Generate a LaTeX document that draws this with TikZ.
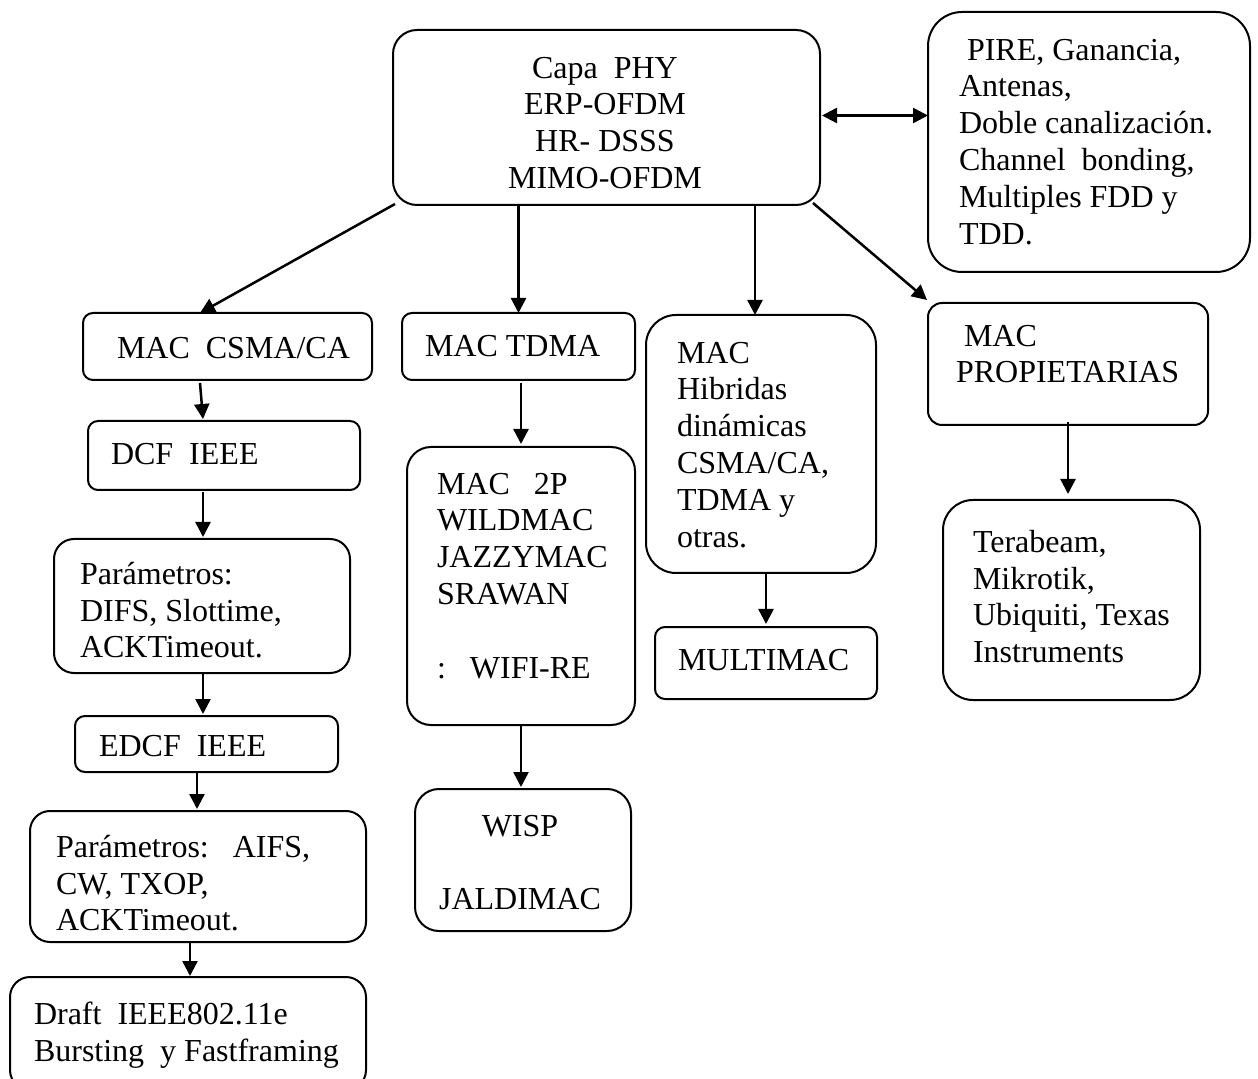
\documentclass[tikz,border=0pt]{standalone}
\usepackage{fontspec}
\setmainfont{Liberation Serif}
\usetikzlibrary{arrows.meta,calc,fit}
\begin{document}
\begin{tikzpicture}[x=0.5pt,y=-0.5pt,line width=1pt,
  box/.style={draw=black,inner sep=0pt,outer sep=0pt,rounded corners=#1},
  box/.default=5pt,
  txt/.style={inner sep=0pt,anchor=north west,align=left,font=\fontsize{16}{18.4}\selectfont},
  ctxt/.style={inner sep=0pt,anchor=north,align=center,font=\fontsize{16}{18.4}\selectfont},
  arr/.style={line width=1.25pt,-{Triangle[length=7.5pt,width=7.5pt]}},
  darr/.style={line width=1.25pt,{Triangle[length=7.5pt,width=7.5pt]}-{Triangle[length=7.5pt,width=7.5pt]}}]
\useasboundingbox (0,0) rectangle (1258,1079);
\fill[white] (0,0) rectangle (1258,1079);
% boxes
\node[box=12pt,fit={(393,30)(820,205)}] (phy) {};
\node[box=17pt,fit={(928,12)(1250,272)}] (rtop) {};
\node[box=5pt,fit={(83,313)(372,380)}] (csma) {};
\node[box=5pt,fit={(88,421)(360,490)}] (dcf) {};
\node[box=10pt,fit={(54,539)(350,673)}] (par1) {};
\node[box=5pt,fit={(75,716)(338,772)}] (edcf) {};
\node[box=10pt,fit={(30,811)(366,942)}] (par2) {};
\node[box=10pt,fit={(10,977)(366,1090)}] (draft) {};
\node[box=5pt,fit={(402,313)(635,380)}] (tdma) {};
\node[box=12pt,fit={(407,447)(635,725)}] (mac2p) {};
\node[box=12pt,fit={(415,789)(631,931)}] (wisp) {};
\node[box=15pt,fit={(646,315)(876,573)}] (hib) {};
\node[box=5pt,fit={(655,627)(877,699)}] (multi) {};
\node[box=7pt,fit={(928,303)(1208,425)}] (prop) {};
\node[box=15pt,fit={(943,500)(1200,700)}] (tera) {};
% texts
\node[ctxt] (tphy) at (605,56) {Capa\ \ PHY\\ERP-OFDM\\HR- DSSS\\MIMO-OFDM};
\node[txt] (trtop) at (958,38) {\hspace*{4pt}PIRE, Ganancia,\\Antenas,\\Doble canalización.\\Channel\ \ bonding,\\Multiples FDD y\\TDD.};
\node[txt] (tcsma) at (116,336) {MAC\ \ CSMA/CA};
\node[txt] (tdcf) at (110,442) {DCF\ \ IEEE};
\node[txt] (tpar1) at (79,561) {Parámetros:\\DIFS, Slottime,\\ACKTimeout.};
\node[txt] (tedcf) at (98,734) {EDCF\ \ IEEE};
\node[txt] (tpar2) at (55,834) {Parámetros:\ \ \ AIFS,\\CW, TXOP,\\ACKTimeout.};
\node[txt] (tdraft) at (33,1001) {Draft\ \ IEEE802.11e\\Bursting\ \ y Fastframing};
\node[txt] (ttdma) at (424,334) {MAC TDMA};
\node[txt] (tmac2p) at (436,472) {MAC\ \ \ 2P\\WILDMAC\\JAZZYMAC\\SRAWAN\\[18.4pt]:\ \ \ WIFI-RE};
\node[ctxt] (twisp) at (520,814) {WISP\\[18.4pt]JALDIMAC};
\node[txt] (thib) at (676,341) {MAC\\Hibridas\\dinámicas\\CSMA/CA,\\TDMA y\\otras.};
\node[txt] (tmulti) at (677,648) {MULTIMAC};
\node[txt] (tprop) at (955,324) {\hspace*{4pt}MAC\\PROPIETARIAS};
\node[txt] (ttera) at (972,529) {Terabeam,\\Mikrotik,\\Ubiquiti, Texas\\Instruments};
% connectors
\draw[darr] ($(phy.east)+(2,-2)$) -- ($(rtop.west |- phy.east)+(0,-2)$);
\draw[arr] ($(phy.south west)+(2,-1)$) -- ($(csma.north west)+(117,0)$);
\draw[arr] (tdma.north |- phy.south) -- (tdma.north);
\draw[arr] ($(hib.north |- phy.south)+(-6,0)$) -- ($(hib.north)+(-6,0)$);
\draw[arr] ($(phy.south east)+(-7,-2)$) -- ($(prop.north west)+(-1,-3)$);
\draw[arr] ($(csma.south west)+(117,3)$) -- ($(dcf.north west)+(115,-2)$);
\draw[arr] ($(dcf.south west)+(115,2)$) -- ($(par1.north west)+(149,-2)$);
\draw[arr] ($(par1.south west)+(149,0)$) -- ($(edcf.north west)+(128,-2)$);
\draw[arr] ($(edcf.south west)+(122,0)$) -- ($(par2.north west)+(167,-2)$);
\draw[arr] ($(par2.south west)+(160,0)$) -- ($(draft.north west)+(180,-1)$);
\draw[arr] ($(mac2p.north |- tdma.south)+(0,3)$) -- ($(mac2p.north)+(0,-3)$);
\draw[arr] ($(mac2p.south)+(0,1)$) -- ($(mac2p.south |- wisp.north)+(0,-2)$);
\draw[arr] (multi.north |- hib.south) -- ($(multi.north)+(0,-3)$);
\draw[arr] ($(prop.south)+(0,-3)$) -- ($(prop.south |- tera.north)+(0,-6)$);
\end{tikzpicture}
\end{document}
